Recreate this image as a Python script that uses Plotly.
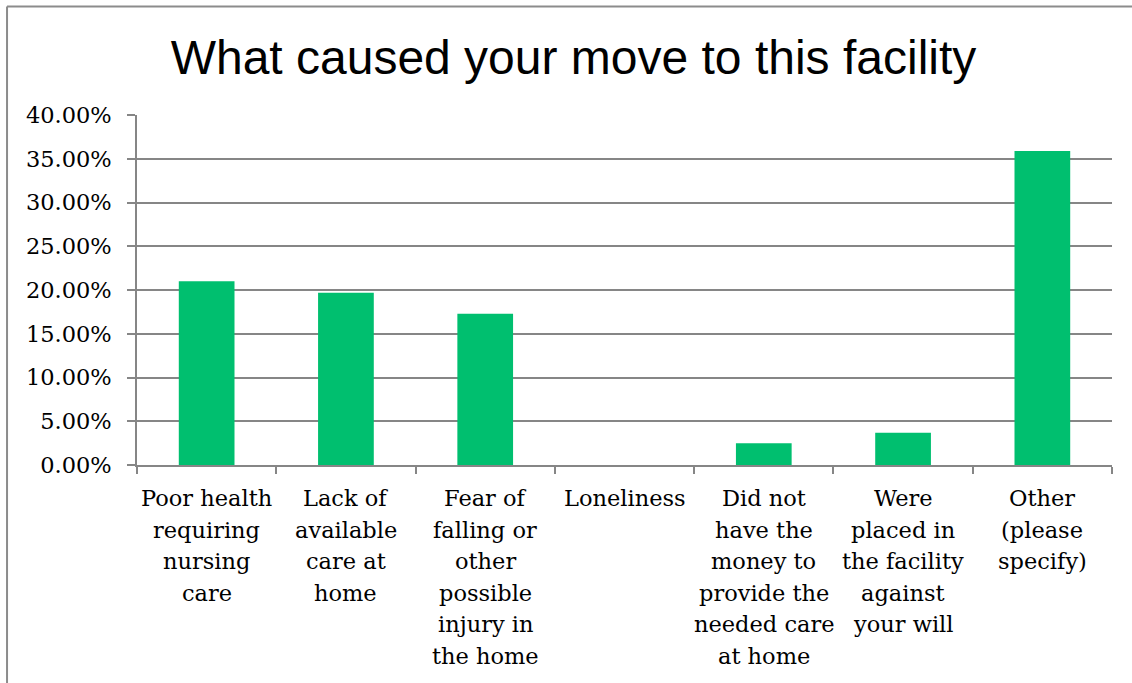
import plotly.graph_objects as go

categories = [
    "Poor health<br>requiring<br>nursing<br>care",
    "Lack of<br>available<br>care at<br>home",
    "Fear of<br>falling or<br>other<br>possible<br>injury in<br>the home",
    "Loneliness",
    "Did not<br>have the<br>money to<br>provide the<br>needed care<br>at home",
    "Were<br>placed in<br>the facility<br>against<br>your will",
    "Other<br>(please<br>specify)",
]
values = [0.210, 0.197, 0.173, 0.0, 0.025, 0.037, 0.359]
y_ticks = [0, 0.05, 0.10, 0.15, 0.20, 0.25, 0.30, 0.35, 0.40]
y_ticklabels = [f"{v*100:.2f}%" for v in y_ticks]

GRID = "#868686"
BAR = "#00BF6F"
SERIF = "DejaVu Serif"
LABEL_FIRST = 33     # px below axis for first label line centre
LABEL_STEP = 31.5    # px line spacing of category labels

fig = go.Figure(
    go.Bar(x=categories, y=values, marker=dict(color=BAR, line=dict(width=0)))
)

# category labels drawn line by line (for wider line spacing)
annotations = []
for cat in categories:
    for i, line in enumerate(cat.split("<br>")):
        annotations.append(dict(
            x=cat, y=0, xref="x", yref="y",
            text=line, showarrow=False,
            xanchor="center", yanchor="middle",
            yshift=-(LABEL_FIRST + LABEL_STEP * i),
            font=dict(family=SERIF, size=22.5, color="black"),
        ))

fig.update_layout(
    width=1132,
    height=683,
    paper_bgcolor="white",
    plot_bgcolor="white",
    margin=dict(l=137, r=20, t=115, b=218),
    bargap=0.6,
    showlegend=False,
    annotations=annotations,
    title=dict(
        text="What caused your move to this facility",
        font=dict(family="Liberation Sans, Arial", size=48, color="black"),
        x=0.5066,
        xanchor="center",
        y=0.9165,
        yanchor="middle",
    ),
    shapes=[
        dict(type="line", xref="paper", yref="paper", x0=-0.1333, x1=1.05, y0=1.31, y1=1.31,
             line=dict(color="#8c8c8c", width=2)),
        dict(type="line", xref="paper", yref="paper", x0=-0.1333, x1=-0.1333, y0=-0.7, y1=1.31,
             line=dict(color="#8c8c8c", width=2)),
    ],
)

fig.update_yaxes(
    range=[0, 0.40],
    tickvals=y_ticks,
    ticktext=y_ticklabels,
    showgrid=True,
    gridcolor=GRID,
    gridwidth=1.5,
    showline=True,
    linecolor=GRID,
    linewidth=1.5,
    ticks="outside",
    ticklen=8,
    tickcolor=GRID,
    tickwidth=1.5,
    ticklabelstandoff=11,
    zeroline=False,
    tickfont=dict(family=SERIF, size=22.5, color="black"),
    fixedrange=True,
)
fig.update_xaxes(
    type="category",
    showline=True,
    linecolor=GRID,
    linewidth=2,
    ticks="outside",
    tickson="boundaries",
    ticklen=7,
    tickcolor=GRID,
    tickwidth=1.5,
    showticklabels=False,
    showgrid=False,
    fixedrange=True,
)

fig.write_html(
    "out.html",
    config={"displayModeBar": False},
    post_script="document.body.style.margin='0';document.body.style.overflow='hidden';",
)
